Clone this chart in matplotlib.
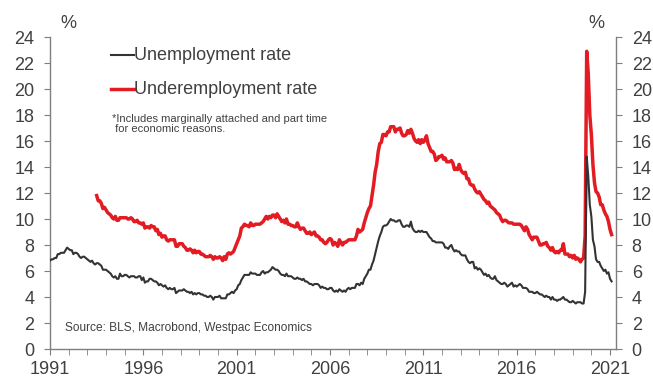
"""US unemployment vs underemployment rate, monthly."""

import matplotlib

matplotlib.use("Agg")
import matplotlib.pyplot as plt
import numpy as np
from matplotlib.lines import Line2D

plt.rcParams["font.family"] = ["Liberation Sans", "DejaVu Sans"]

# unemployment rate, monthly from Jul 1991 to Aug 2021
unemployment = [
    6.8, 6.9, 6.9, 7.0, 7.0, 7.3,
    7.3, 7.4, 7.4, 7.4, 7.6, 7.8, 7.7, 7.6, 7.6, 7.3, 7.4, 7.4,
    7.3, 7.1, 7.0, 7.1, 7.1, 7.0, 6.9, 6.8, 6.7, 6.8, 6.6, 6.5,
    6.6, 6.6, 6.5, 6.4, 6.1, 6.1, 6.1, 6.0, 5.9, 5.8, 5.6, 5.5,
    5.6, 5.4, 5.4, 5.8, 5.6, 5.6, 5.7, 5.7, 5.6, 5.5, 5.6, 5.6,
    5.6, 5.5, 5.5, 5.6, 5.6, 5.3, 5.5, 5.1, 5.2, 5.2, 5.4, 5.4,
    5.3, 5.2, 5.2, 5.1, 4.9, 5.0, 4.9, 4.8, 4.9, 4.7, 4.6, 4.7,
    4.6, 4.6, 4.7, 4.3, 4.4, 4.5, 4.5, 4.5, 4.6, 4.5, 4.4, 4.4,
    4.3, 4.4, 4.2, 4.3, 4.2, 4.3, 4.3, 4.2, 4.2, 4.1, 4.1, 4.0,
    4.0, 4.1, 4.0, 3.8, 4.0, 4.0, 4.0, 4.1, 3.9, 3.9, 3.9, 3.9,
    4.2, 4.2, 4.3, 4.4, 4.3, 4.5, 4.6, 4.9, 5.0, 5.3, 5.5, 5.7,
    5.7, 5.7, 5.7, 5.9, 5.8, 5.8, 5.8, 5.7, 5.7, 5.7, 5.9, 6.0,
    5.8, 5.9, 5.9, 6.0, 6.1, 6.3, 6.2, 6.1, 6.1, 6.0, 5.8, 5.7,
    5.7, 5.6, 5.8, 5.6, 5.6, 5.6, 5.5, 5.4, 5.4, 5.5, 5.4, 5.4,
    5.3, 5.4, 5.2, 5.2, 5.1, 5.0, 5.0, 4.9, 5.0, 5.0, 5.0, 4.9,
    4.7, 4.8, 4.7, 4.7, 4.6, 4.6, 4.7, 4.7, 4.5, 4.4, 4.5, 4.4,
    4.6, 4.5, 4.4, 4.5, 4.4, 4.6, 4.7, 4.6, 4.7, 4.7, 4.7, 5.0,
    5.0, 4.9, 5.1, 5.0, 5.4, 5.6, 5.8, 6.1, 6.1, 6.5, 6.8, 7.3,
    7.8, 8.3, 8.7, 9.0, 9.4, 9.5, 9.5, 9.6, 9.8, 10.0, 9.9, 9.9,
    9.8, 9.8, 9.9, 9.9, 9.6, 9.4, 9.4, 9.5, 9.5, 9.4, 9.8, 9.3,
    9.1, 9.0, 9.0, 9.1, 9.0, 9.1, 9.0, 9.0, 9.0, 8.8, 8.6, 8.5,
    8.3, 8.3, 8.2, 8.2, 8.2, 8.2, 8.2, 8.1, 7.8, 7.8, 7.7, 7.9,
    8.0, 7.7, 7.5, 7.6, 7.5, 7.5, 7.3, 7.2, 7.2, 7.2, 6.9, 6.7,
    6.6, 6.7, 6.7, 6.2, 6.3, 6.1, 6.2, 6.1, 5.9, 5.7, 5.8, 5.6,
    5.7, 5.5, 5.4, 5.4, 5.6, 5.3, 5.2, 5.1, 5.0, 5.0, 5.1, 5.0,
    4.8, 4.9, 5.0, 5.1, 4.8, 4.9, 4.8, 4.9, 5.0, 4.9, 4.7, 4.7,
    4.7, 4.6, 4.4, 4.4, 4.4, 4.3, 4.3, 4.4, 4.3, 4.2, 4.2, 4.1,
    4.0, 4.1, 4.0, 4.0, 3.8, 4.0, 3.8, 3.8, 3.7, 3.8, 3.8, 3.9,
    4.0, 3.8, 3.8, 3.7, 3.6, 3.6, 3.7, 3.6, 3.5, 3.6, 3.6, 3.6,
    3.5, 3.5, 4.4, 14.8, 13.3, 11.1, 10.2, 8.4, 7.9, 6.9, 6.7, 6.7,
    6.4, 6.2, 6.0, 6.1, 5.8, 5.9, 5.4, 5.2,
]

# underemployment rate (U-6), monthly from Jan 1994 to Aug 2021
underemployment = [
    11.8, 11.4, 11.4, 11.2, 10.8, 10.9, 10.7, 10.5, 10.4, 10.3, 10.1, 10.0,
    10.2, 9.9, 9.9, 10.1, 10.1, 10.1, 10.1, 10.1, 10.0, 10.0, 10.1, 10.0,
    9.8, 9.8, 9.9, 9.7, 9.7, 9.6, 9.7, 9.3, 9.4, 9.4, 9.3, 9.5,
    9.4, 9.4, 9.1, 9.2, 8.8, 8.9, 8.6, 8.7, 8.7, 8.4, 8.3, 8.4,
    8.4, 8.4, 8.4, 7.9, 7.9, 8.1, 8.1, 8.1, 7.9, 7.8, 7.6, 7.6,
    7.7, 7.6, 7.4, 7.6, 7.4, 7.5, 7.5, 7.3, 7.3, 7.2, 7.1, 7.1,
    7.1, 7.2, 7.1, 6.9, 7.1, 7.0, 7.0, 7.1, 7.0, 6.8, 7.1, 6.9,
    7.3, 7.4, 7.3, 7.4, 7.5, 7.8, 8.1, 8.4, 8.7, 9.3, 9.4, 9.6,
    9.5, 9.5, 9.4, 9.7, 9.5, 9.5, 9.6, 9.6, 9.6, 9.6, 9.7, 9.8,
    10.0, 10.2, 10.0, 10.2, 10.1, 10.3, 10.3, 10.1, 10.4, 10.2, 10.0, 9.8,
    9.9, 9.7, 10.0, 9.6, 9.6, 9.5, 9.5, 9.4, 9.4, 9.7, 9.4, 9.2,
    9.3, 9.3, 9.1, 8.9, 8.9, 9.0, 8.8, 8.9, 9.0, 8.7, 8.7, 8.6,
    8.4, 8.4, 8.2, 8.1, 8.2, 8.4, 8.5, 8.4, 8.0, 8.2, 8.1, 7.9,
    8.4, 8.2, 8.0, 8.2, 8.2, 8.3, 8.4, 8.4, 8.4, 8.4, 8.4, 8.7,
    9.2, 9.0, 9.1, 9.2, 9.7, 10.1, 10.5, 10.8, 11.0, 11.8, 12.6, 13.6,
    14.2, 15.2, 15.8, 15.9, 16.5, 16.5, 16.4, 16.7, 16.7, 17.1, 17.1, 17.1,
    16.7, 16.9, 16.9, 17.0, 16.6, 16.4, 16.4, 16.5, 16.8, 16.6, 16.9, 16.6,
    16.2, 16.0, 15.9, 16.1, 15.8, 16.1, 15.9, 16.1, 16.4, 15.8, 15.5, 15.2,
    15.2, 15.0, 14.5, 14.6, 14.8, 14.8, 14.9, 14.6, 14.7, 14.4, 14.4, 14.4,
    14.5, 14.3, 13.8, 13.9, 13.8, 14.2, 13.8, 13.6, 13.5, 13.6, 13.1, 13.1,
    12.7, 12.6, 12.6, 12.3, 12.1, 12.0, 12.1, 11.9, 11.7, 11.5, 11.4, 11.2,
    11.3, 11.0, 10.9, 10.8, 10.7, 10.5, 10.4, 10.3, 10.0, 9.8, 9.9, 9.9,
    9.8, 9.7, 9.7, 9.7, 9.6, 9.6, 9.6, 9.6, 9.6, 9.5, 9.3, 9.1,
    9.4, 9.2, 8.8, 8.6, 8.4, 8.6, 8.6, 8.6, 8.3, 8.0, 8.0, 8.1,
    8.1, 8.2, 7.9, 7.8, 7.6, 7.8, 7.5, 7.4, 7.5, 7.4, 7.6, 7.6,
    8.1, 7.3, 7.3, 7.3, 7.1, 7.2, 7.0, 7.2, 6.9, 7.0, 6.9, 6.7,
    6.9, 7.0, 8.7, 22.9, 21.2, 18.0, 16.5, 14.2, 12.8, 12.1, 12.0, 11.7,
    11.1, 11.1, 10.7, 10.4, 10.2, 9.8, 9.2, 8.8,
]

year_labels = [1991, 1996, 2001, 2006, 2011, 2016, 2021]
y_ticks = list(range(0, 25, 2))

RED = "#e31b23"
BLACK = "#333333"
GREY = "#7f7f7f"
TEXT = "#404040"

x_un = 1991.5 + np.arange(len(unemployment)) / 12
x_under = 1994.0 + np.arange(len(underemployment)) / 12

fig = plt.figure(figsize=(6.53, 3.76), dpi=100)
ax = fig.add_axes([50 / 653, 27 / 376, 566 / 653, 312 / 376])

ax.plot(x_under, underemployment, color=RED, lw=2.5, solid_joinstyle="round", zorder=2)
ax.plot(x_un, unemployment, color=BLACK, lw=1.5, zorder=3)

ax.set_xlim(1991.5, 2021.82)
ax.set_ylim(0, 24)
ax.set_xticks([y + 0.5 for y in year_labels])
ax.set_xticklabels([str(y) for y in year_labels])
ax.set_xticks(np.arange(1991.5, 2022, 1), minor=True)
ax.set_yticks(y_ticks)

ax.spines["top"].set_visible(False)
for side in ("left", "right", "bottom"):
    ax.spines[side].set_color(GREY)
    ax.spines[side].set_linewidth(1.0)

ax.tick_params(axis="both", which="both", direction="out", color=GREY,
               labelcolor=TEXT, labelsize=13)
ax.tick_params(axis="y", length=4.3, pad=7, right=True, labelright=True)
ax.tick_params(axis="x", which="major", length=4.3, pad=4)
ax.tick_params(axis="x", which="minor", length=4.3)

fig.text(596 / 653 - 528 / 653, 1 - 23 / 376, "%", ha="center", va="center", fontsize=13, color=TEXT)
fig.text(596 / 653, 1 - 23 / 376, "%", ha="center", va="center", fontsize=13, color=TEXT)

# legend drawn by hand
for y_px, color, lw, label in [(55, BLACK, 1.5, "Unemployment rate"),
                               (89, RED, 2.5, "Underemployment rate")]:
    yf = 1 - y_px / 376
    fig.add_artist(Line2D([111 / 653, 134 / 653], [yf, yf], color=color, lw=lw,
                          transform=fig.transFigure))
    fig.text(134 / 653, yf, label, ha="left", va="center", fontsize=13, color=TEXT)

fig.text(112 / 653, 1 - 124 / 376,
         "*Includes marginally attached and part time\n for economic reasons.",
         ha="left", va="center", fontsize=8, color=TEXT, linespacing=1.1)

fig.text(65 / 653, 1 - 328 / 376, "Source: BLS, Macrobond, Westpac Economics",
         ha="left", va="center", fontsize=8.6, color=TEXT)

fig.savefig("out.png", dpi=100)
plt.close(fig)
